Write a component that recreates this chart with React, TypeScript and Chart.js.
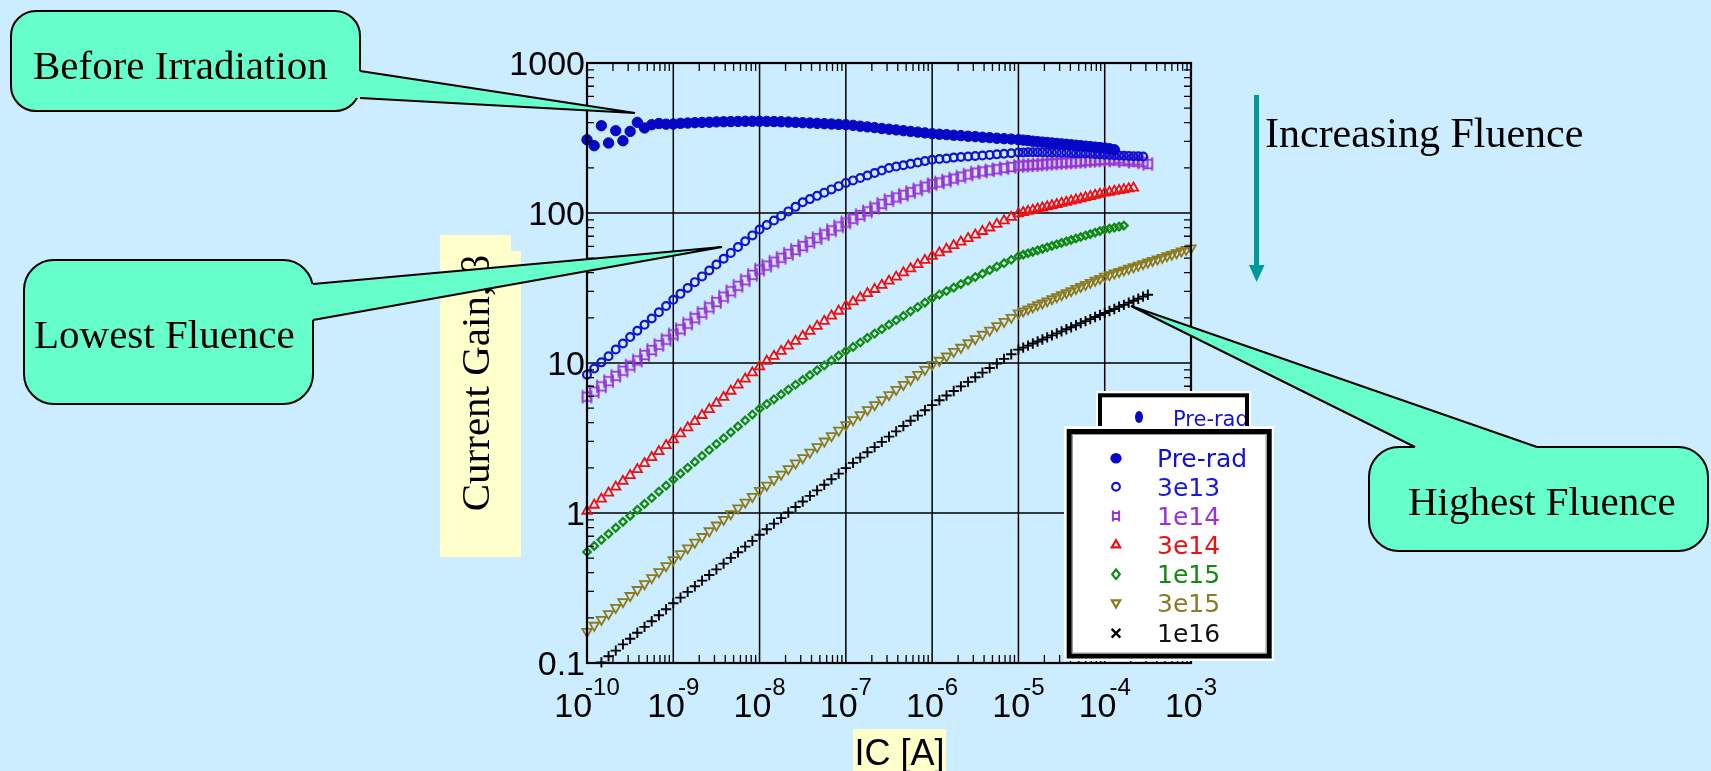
import React, { useEffect, useRef } from "react";
import { Chart, registerables } from "chart.js";

Chart.register(...registerables);

const W = 1711;
const H = 771;

// Collector current sweep (A): 12 points per decade up to 10 uA, 18 per decade above
const IC = [
  1e-10, 1.212e-10, 1.468e-10, 1.778e-10, 2.154e-10, 2.61e-10, 3.162e-10, 3.831e-10, 4.642e-10, 5.623e-10, 6.813e-10, 8.254e-10,
  1e-9, 1.212e-9, 1.468e-9, 1.778e-9, 2.154e-9, 2.61e-9, 3.162e-9, 3.831e-9, 4.642e-9, 5.623e-9, 6.813e-9, 8.254e-9,
  1e-8, 1.212e-8, 1.468e-8, 1.778e-8, 2.154e-8, 2.61e-8, 3.162e-8, 3.831e-8, 4.642e-8, 5.623e-8, 6.813e-8, 8.254e-8,
  1e-7, 1.212e-7, 1.468e-7, 1.778e-7, 2.154e-7, 2.61e-7, 3.162e-7, 3.831e-7, 4.642e-7, 5.623e-7, 6.813e-7, 8.254e-7,
  1e-6, 1.212e-6, 1.468e-6, 1.778e-6, 2.154e-6, 2.61e-6, 3.162e-6, 3.831e-6, 4.642e-6, 5.623e-6, 6.813e-6, 8.254e-6,
  1e-5, 1.136e-5, 1.292e-5, 1.468e-5, 1.668e-5, 1.896e-5, 2.154e-5, 2.448e-5, 2.783e-5, 3.162e-5, 3.594e-5, 4.084e-5,
  4.642e-5, 5.275e-5, 5.995e-5, 6.813e-5, 7.743e-5, 8.799e-5,
  1e-4, 1.136e-4, 1.292e-4, 1.468e-4, 1.668e-4, 1.896e-4, 2.154e-4, 2.448e-4, 2.783e-4, 3.162e-4, 3.594e-4, 4.084e-4,
  4.642e-4, 5.275e-4, 5.995e-4, 6.813e-4, 7.743e-4, 8.799e-4,
  1e-3,
];

// Current gain for each fluence, indexed along IC
const GAIN_PRE_RAD = [
  308, 281, 382, 293, 354, 303, 350, 402, 369, 388, 395, 391,
  392, 396, 398, 400, 402, 403, 405, 406, 407, 408, 409, 409,
  409, 408, 407, 406, 404, 402, 400, 398, 396, 394, 392, 390,
  388, 384, 379, 375, 371, 366, 362, 358, 354, 350, 346, 342,
  338, 335, 333, 330, 328, 325, 323, 320, 318, 315, 313, 311,
  308, 306, 304, 301, 299, 297, 295, 293, 291, 289, 287, 285, 283, 281, 279, 277, 275, 273,
  271, 268, 264,
];

const GAIN_3E13 = [
  8.36, 9.2, 10.1, 11.1, 12.3, 13.5, 14.9, 16.4, 18.0, 19.8, 21.8, 24.0,
  26.4, 28.9, 31.6, 34.6, 37.8, 41.4, 45.3, 49.5, 54.2, 59.3, 64.8, 70.9,
  77.6, 83.2, 89.2, 95.6, 102.5, 109.9, 117.8, 123.8, 130.1, 136.7, 143.7, 151.0,
  158.7, 164.9, 171.3, 178.0, 184.9, 192.1, 199.6, 203.9, 208.2, 212.6, 217.2, 221.8,
  226.5, 229, 231, 234, 236, 238, 240, 242, 244, 246, 248, 250,
  253, 253, 254, 254, 254, 254, 253, 253, 253, 252, 252, 251, 250, 250, 249, 248, 247, 246,
  245, 244, 243, 242, 241, 240, 239, 239, 238,
];

const GAIN_1E14 = [
  5.96, 6.45, 6.99, 7.57, 8.2, 8.88, 9.62, 10.4, 11.3, 12.2, 13.2, 14.3,
  15.5, 16.8, 18.3, 19.9, 21.6, 23.5, 25.5, 27.7, 30.1, 32.7, 35.6, 38.7,
  42.0, 44.6, 47.4, 50.3, 53.4, 56.7, 60.2, 64.0, 67.9, 72.1, 76.6, 81.4,
  86.4, 91.5, 96.9, 102.6, 108.7, 115.1, 121.9, 127.0, 132.3, 137.9, 143.7, 149.7,
  156.0, 159.6, 164.5, 169.6, 174.9, 180.3, 185.9, 189.1, 192.4, 195.8, 199.2, 202.7,
  206.2, 207, 208, 209, 210, 211, 213, 214, 215, 216, 217, 218, 219, 220, 222, 223, 224, 225,
  226, 228, 224, 230, 222, 226, 220, 224, 218, 212,
];

const GAIN_3E14 = [
  1.03, 1.13, 1.24, 1.36, 1.49, 1.63, 1.78, 1.95, 2.14, 2.35, 2.57, 2.82,
  3.08, 3.38, 3.71, 4.08, 4.48, 4.91, 5.39, 5.92, 6.5, 7.14, 7.84, 8.61,
  9.45, 10.3, 11.1, 12.0, 13.0, 14.0, 15.1, 16.3, 17.6, 19.0, 20.6, 22.2,
  24.0, 25.6, 27.3, 29.1, 31.0, 33.0, 35.2, 37.5, 40.0, 42.6, 45.4, 48.4,
  51.6, 54.4, 57.5, 60.7, 64.1, 67.7, 71.5, 75.5, 79.7, 84.2, 88.9, 93.9,
  99.1, 100.9, 102.7, 104.5, 106.4, 108.3, 110.2, 112.1, 114.1, 116.2, 118.2, 120.3, 122.5, 124.7, 126.9, 129.1, 131.4, 133.8,
  136.1, 137.9, 139.7, 141.5, 143.3, 145.2, 147,
];

const GAIN_1E15 = [
  0.55, 0.603, 0.662, 0.726, 0.796, 0.873, 0.958, 1.05, 1.15, 1.26, 1.39, 1.52,
  1.67, 1.83, 2.0, 2.19, 2.4, 2.63, 2.88, 3.15, 3.45, 3.78, 4.14, 4.53,
  4.96, 5.32, 5.73, 6.17, 6.65, 7.16, 7.71, 8.3, 8.94, 9.63, 10.4, 11.2,
  12.0, 12.8, 13.7, 14.7, 15.7, 16.8, 18.0, 19.3, 20.6, 22.1, 23.6, 25.3,
  27.1, 28.6, 30.2, 31.8, 33.6, 35.4, 37.4, 39.4, 41.6, 43.9, 46.3, 48.8,
  51.5, 52.7, 53.9, 55.1, 56.4, 57.7, 59.0, 60.4, 61.8, 63.2, 64.6, 66.1, 67.6, 69.2, 70.8, 72.4, 74.1, 75.8,
  77.5, 78.7, 79.9, 81.2, 82.4,
];

const GAIN_3E15 = [
  0.162, 0.178, 0.195, 0.213, 0.234, 0.256, 0.281, 0.308, 0.337, 0.37, 0.405, 0.444,
  0.487, 0.534, 0.583, 0.637, 0.695, 0.759, 0.829, 0.905, 0.988, 1.079, 1.179, 1.287,
  1.41, 1.53, 1.67, 1.81, 1.97, 2.15, 2.33, 2.54, 2.76, 3.01, 3.27, 3.56,
  3.87, 4.18, 4.51, 4.88, 5.27, 5.69, 6.14, 6.64, 7.17, 7.74, 8.36, 9.03,
  9.75, 10.4, 11.1, 11.9, 12.7, 13.6, 14.5, 15.5, 16.5, 17.7, 18.9, 20.1,
  21.5, 22.2, 22.9, 23.6, 24.4, 25.1, 25.9, 26.8, 27.6, 28.5, 29.4, 30.3, 31.3, 32.3, 33.3, 34.4, 35.5, 36.6,
  37.8, 38.7, 39.7, 40.6, 41.6, 42.7, 43.7, 44.8, 45.9, 47.0, 48.2, 49.3, 50.5, 51.8, 53.0, 54.3, 55.7, 57.0,
  58.4,
];

const GAIN_1E16 = [
  null, null, 0.101, 0.111, 0.121, 0.133, 0.145, 0.159, 0.174, 0.19, 0.208, 0.228,
  0.25, 0.273, 0.298, 0.325, 0.354, 0.386, 0.421, 0.46, 0.502, 0.547, 0.597, 0.652,
  0.716, 0.78, 0.849, 0.925, 1.007, 1.097, 1.194, 1.301, 1.416, 1.542, 1.68, 1.829,
  1.992, 2.16, 2.34, 2.54, 2.75, 2.98, 3.23, 3.5, 3.8, 4.12, 4.46, 4.84,
  5.24, 5.65, 6.07, 6.51, 6.98, 7.49, 8.04, 8.63, 9.26, 9.93, 10.66, 11.44,
  12.27, 12.66, 13.06, 13.48, 13.91, 14.35, 14.81, 15.28, 15.76, 16.26, 16.78, 17.31, 17.86, 18.43, 19.02, 19.62, 20.25, 20.89,
  21.55, 22.2, 22.9, 23.7, 24.4, 25.2, 26.0, 26.8, 27.7, 28.5,
];

const SERIES_LABELS = ["Pre-rad", "3e13", "1e14", "3e14", "1e15", "3e15", "1e16"];
const SERIES_VALUES = [GAIN_PRE_RAD, GAIN_3E13, GAIN_1E14, GAIN_3E14, GAIN_1E15, GAIN_3E15, GAIN_1E16];

const X_DECADES = [1e-10, 1e-9, 1e-8, 1e-7, 1e-6, 1e-5, 1e-4, 1e-3];
const X_EXPONENTS = ["-10", "-9", "-8", "-7", "-6", "-5", "-4", "-3"];
const Y_DECADES = [0.1, 1, 10, 100, 1000];
const Y_LABELS = ["0.1", "1", "10", "100", "1000"];

const BG = "#CCECFF";
const CALLOUT = "#66FFCC";
const NOTE_YELLOW = "#FFFFCC";
const TEAL = "#009999";

type Kind = "dot" | "ring" | "barSquare" | "tri" | "diamond" | "triDown" | "cross";
const SERIES_STYLE: { color: string; text: string; kind: Kind }[] = [
  { color: "#0606C6", text: "#1010D8", kind: "dot" },
  { color: "#1212D0", text: "#1a1ad8", kind: "ring" },
  { color: "#9A32D2", text: "#9B30D9", kind: "barSquare" },
  { color: "#EE1010", text: "#EE1010", kind: "tri" },
  { color: "#128A12", text: "#128A12", kind: "diamond" },
  { color: "#8C7A1C", text: "#8C7A2A", kind: "triDown" },
  { color: "#000000", text: "#111111", kind: "cross" },
];

function makeBarSquare(color: string, side: number, ext: number, lw: number) {
  const pad = 2;
  const c = document.createElement("canvas");
  c.width = Math.ceil(side + 2 * pad);
  c.height = Math.ceil(side + 2 * ext + 2 * pad);
  const g = c.getContext("2d")!;
  const cx = c.width / 2;
  const cy = c.height / 2;
  g.strokeStyle = color;
  g.lineWidth = lw;
  g.strokeRect(cx - side / 2, cy - side / 2, side, side);
  g.beginPath();
  g.moveTo(cx - side / 2, cy - side / 2 - ext);
  g.lineTo(cx - side / 2, cy + side / 2 + ext);
  g.moveTo(cx + side / 2, cy - side / 2 - ext);
  g.lineTo(cx + side / 2, cy + side / 2 + ext);
  g.stroke();
  return c;
}

function drawMarker(ctx: CanvasRenderingContext2D, kind: Kind, x: number, y: number, r: number, color: string) {
  ctx.save();
  ctx.strokeStyle = color;
  ctx.fillStyle = color;
  ctx.lineWidth = 2.2;
  ctx.beginPath();
  if (kind === "dot") {
    ctx.ellipse(x, y, r, r * 0.95, 0, 0, Math.PI * 2);
    ctx.fill();
  } else if (kind === "ring") {
    ctx.arc(x, y, r * 0.8, 0, Math.PI * 2);
    ctx.stroke();
  } else if (kind === "barSquare") {
    const s = r * 1.3;
    ctx.lineWidth = 2;
    ctx.rect(x - s / 2, y - s / 2, s, s);
    ctx.moveTo(x - s / 2, y - s / 2 - 2.5);
    ctx.lineTo(x - s / 2, y + s / 2 + 2.5);
    ctx.moveTo(x + s / 2, y - s / 2 - 2.5);
    ctx.lineTo(x + s / 2, y + s / 2 + 2.5);
    ctx.stroke();
  } else if (kind === "tri" || kind === "triDown") {
    const d = kind === "tri" ? 1 : -1;
    ctx.moveTo(x, y - d * r);
    ctx.lineTo(x + r * 0.87, y + d * r * 0.5);
    ctx.lineTo(x - r * 0.87, y + d * r * 0.5);
    ctx.closePath();
    ctx.stroke();
  } else if (kind === "diamond") {
    ctx.moveTo(x, y - r);
    ctx.lineTo(x + r * 0.8, y);
    ctx.lineTo(x, y + r);
    ctx.lineTo(x - r * 0.8, y);
    ctx.closePath();
    ctx.stroke();
  } else if (kind === "cross") {
    const a = r * 0.75;
    ctx.lineWidth = 2.4;
    ctx.moveTo(x - a, y - a);
    ctx.lineTo(x + a, y + a);
    ctx.moveTo(x + a, y - a);
    ctx.lineTo(x - a, y + a);
    ctx.stroke();
  }
  ctx.restore();
}

type Box = { x: number; y: number; w: number; h: number; r: number };

function drawCallout(
  ctx: CanvasRenderingContext2D,
  box: Box,
  base: [number, number][],
  tip: [number, number],
  inward: [number, number],
  text: string,
  tx: number,
  ty: number
) {
  ctx.save();
  ctx.beginPath();
  ctx.roundRect(box.x, box.y, box.w, box.h, box.r);
  ctx.fillStyle = CALLOUT;
  ctx.fill();
  ctx.lineWidth = 2;
  ctx.strokeStyle = "#000";
  ctx.stroke();

  const [b1, b2] = base;
  ctx.beginPath();
  ctx.moveTo(b1[0], b1[1]);
  ctx.lineTo(tip[0], tip[1]);
  ctx.lineTo(b2[0], b2[1]);
  ctx.lineTo(b2[0] + inward[0] * 4, b2[1] + inward[1] * 4);
  ctx.lineTo(b1[0] + inward[0] * 4, b1[1] + inward[1] * 4);
  ctx.closePath();
  ctx.fill();
  ctx.beginPath();
  ctx.moveTo(b1[0], b1[1]);
  ctx.lineTo(tip[0], tip[1]);
  ctx.lineTo(b2[0], b2[1]);
  ctx.lineJoin = "miter";
  ctx.stroke();

  ctx.fillStyle = "#000";
  ctx.font = "41px 'Liberation Serif', 'Times New Roman', serif";
  ctx.textAlign = "left";
  ctx.textBaseline = "alphabetic";
  ctx.fillText(text, tx, ty);
  ctx.restore();
}

const decorations = {
  id: "gainDecorations",
  beforeDraw(chart: any) {
    const { ctx } = chart;
    ctx.save();
    ctx.fillStyle = BG;
    ctx.fillRect(0, 0, chart.width, chart.height);
    ctx.restore();
  },
  beforeDatasetsDraw(chart: any) {
    const { ctx, chartArea: a } = chart;
    const xs = chart.scales.x;
    const ys = chart.scales.y;
    ctx.save();
    ctx.strokeStyle = "#000";
    ctx.lineWidth = 1.5;
    ctx.beginPath();
    X_DECADES.forEach((v) => {
      const px = xs.getPixelForValue(v);
      ctx.moveTo(px, a.top);
      ctx.lineTo(px, a.bottom);
    });
    Y_DECADES.forEach((v) => {
      const py = ys.getPixelForValue(v);
      ctx.moveTo(a.left, py);
      ctx.lineTo(a.right, py);
    });
    ctx.stroke();
    ctx.restore();
  },
  afterDatasetsDraw(chart: any) {
    const { ctx, chartArea: a } = chart;
    const xs = chart.scales.x;
    const ys = chart.scales.y;
    ctx.save();
    ctx.strokeStyle = "#000";
    ctx.lineWidth = 1.3;
    ctx.beginPath();
    for (let i = 0; i < X_DECADES.length - 1; i++) {
      for (let m = 2; m <= 9; m++) {
        const px = xs.getPixelForValue(m * X_DECADES[i]);
        ctx.moveTo(px, a.bottom);
        ctx.lineTo(px, a.bottom - 8);
        ctx.moveTo(px, a.top);
        ctx.lineTo(px, a.top + 8);
      }
    }
    for (let i = 0; i < Y_DECADES.length - 1; i++) {
      for (let m = 2; m <= 9; m++) {
        const py = ys.getPixelForValue(m * Y_DECADES[i]);
        ctx.moveTo(a.left, py);
        ctx.lineTo(a.left + 7, py);
        ctx.moveTo(a.right, py);
        ctx.lineTo(a.right - 7, py);
      }
    }
    ctx.stroke();
    ctx.lineWidth = 2.2;
    ctx.strokeRect(a.left, a.top, a.right - a.left, a.bottom - a.top);

    // y tick labels
    ctx.fillStyle = "#000";
    ctx.font = "34px 'Liberation Sans', Arial, sans-serif";
    ctx.textAlign = "right";
    ctx.textBaseline = "alphabetic";
    Y_DECADES.forEach((v, i) => {
      const py = ys.getPixelForValue(v);
      ctx.fillText(Y_LABELS[i], a.left - 2, py + 12);
    });

    // x tick labels: 10 with a superscript exponent
    ctx.textAlign = "left";
    X_DECADES.forEach((v, i) => {
      const px = xs.getPixelForValue(v);
      ctx.font = "34px 'Liberation Sans', Arial, sans-serif";
      const wBase = ctx.measureText("10").width;
      ctx.font = "24px 'Liberation Sans', Arial, sans-serif";
      const wExp = ctx.measureText(X_EXPONENTS[i]).width;
      const overlap = 7;
      const total = wBase - overlap + wExp;
      const x0 = px - total / 2;
      ctx.font = "34px 'Liberation Sans', Arial, sans-serif";
      ctx.fillText("10", x0, 717);
      ctx.font = "24px 'Liberation Sans', Arial, sans-serif";
      ctx.fillText(X_EXPONENTS[i], x0 + wBase - overlap, 695);
    });
    ctx.restore();
  },
  afterDraw(chart: any) {
    const { ctx } = chart;
    ctx.save();

    // axis titles on yellow notes
    ctx.fillStyle = NOTE_YELLOW;
    ctx.beginPath();
    ctx.moveTo(440, 235);
    ctx.lineTo(511, 235);
    ctx.lineTo(511, 251);
    ctx.lineTo(521, 251);
    ctx.lineTo(521, 557);
    ctx.lineTo(440, 557);
    ctx.closePath();
    ctx.fill();
    ctx.fillRect(853, 729, 93, 42);

    ctx.fillStyle = "#000";
    ctx.font = "36px 'Liberation Sans', Arial, sans-serif";
    ctx.textAlign = "center";
    ctx.fillText("IC [A]", 899.5, 765);

    ctx.save();
    ctx.translate(489, 383);
    ctx.rotate(-Math.PI / 2);
    ctx.font = "41px 'Liberation Serif', 'Times New Roman', serif";
    ctx.textAlign = "center";
    ctx.fillText("Current Gain, \u03B2", 0, 0);
    ctx.restore();

    // legend: partially hidden copy behind the main box
    ctx.fillStyle = "#fff";
    ctx.fillRect(1096, 391, 155, 50);
    ctx.strokeStyle = "#000";
    ctx.lineWidth = 4;
    ctx.strokeRect(1100, 395.3, 147, 60);
    ctx.save();
    ctx.beginPath();
    ctx.rect(1102, 397, 143, 40);
    ctx.clip();
    ctx.fillStyle = SERIES_STYLE[0].color;
    ctx.beginPath();
    ctx.ellipse(1139, 417, 4, 6, 0, 0, Math.PI * 2);
    ctx.fill();
    ctx.fillStyle = SERIES_STYLE[0].text;
    ctx.font = "21px 'DejaVu Sans', sans-serif";
    ctx.textAlign = "left";
    ctx.fillText(SERIES_LABELS[0], 1173, 426);
    ctx.restore();

    // main legend box
    ctx.fillStyle = "#fff";
    ctx.fillRect(1064, 426, 210, 235);
    ctx.strokeStyle = "#000";
    ctx.lineWidth = 5;
    ctx.strokeRect(1069.2, 431.5, 200, 224.5);
    ctx.strokeStyle = "#9a9a9a";
    ctx.lineWidth = 1;
    ctx.strokeRect(1072.5, 434.5, 193.5, 218.5);
    const rows = [458.3, 486.7, 516, 545, 574.3, 602.7, 633.3];
    const markerR = [5.6, 4.8, 4.8, 4.8, 4.8, 4.8, 5.8];
    ctx.font = "25px 'DejaVu Sans', sans-serif";
    ctx.textAlign = "left";
    SERIES_LABELS.forEach((label, i) => {
      const st = SERIES_STYLE[i];
      drawMarker(ctx, st.kind, 1116, rows[i], markerR[i], st.color);
      ctx.fillStyle = st.text;
      ctx.fillText(label, 1157, rows[i] + 9);
    });

    // fluence arrow
    ctx.fillStyle = TEAL;
    ctx.fillRect(1254, 95, 5, 171);
    ctx.beginPath();
    ctx.moveTo(1249, 265);
    ctx.lineTo(1264.5, 265);
    ctx.lineTo(1256.6, 282);
    ctx.closePath();
    ctx.fill();
    ctx.fillStyle = "#000";
    ctx.font = "42px 'Liberation Serif', 'Times New Roman', serif";
    ctx.textAlign = "left";
    ctx.fillText("Increasing Fluence", 1265, 147);

    // callouts
    drawCallout(ctx, { x: 11, y: 11, w: 349, h: 100, r: 25 }, [[360, 71], [360, 98]], [635, 113], [-1, 0], "Before Irradiation", 33, 79);
    drawCallout(ctx, { x: 24, y: 260, w: 289, h: 144, r: 30 }, [[313, 284], [313, 320]], [722, 247], [-1, 0], "Lowest Fluence", 34, 348);
    drawCallout(ctx, { x: 1369, y: 447, w: 339, h: 104, r: 30 }, [[1415, 447], [1537, 447]], [1131, 306], [0, 1], "Highest Fluence", 1408, 515);

    ctx.restore();
  },
};

export default function App() {
  const canvasRef = useRef<HTMLCanvasElement | null>(null);

  useEffect(() => {
    const canvas = canvasRef.current;
    if (!canvas) return;

    const barSquare = makeBarSquare(SERIES_STYLE[2].color, 8.5, 2.5, 1.7);

    const datasets = SERIES_VALUES.map((values, s) => {
      const st = SERIES_STYLE[s];
      const points = values
        .map((y, i) => (y == null ? null : { x: IC[i], y }))
        .filter((p) => p !== null) as { x: number; y: number }[];
      const base: any = {
        label: SERIES_LABELS[s],
        data: points,
        showLine: false,
        clip: false,
        pointBorderColor: st.color,
        pointBackgroundColor: "transparent",
        pointBorderWidth: 1.8,
        pointHoverRadius: 0,
      };
      switch (st.kind) {
        case "dot":
          return { ...base, pointStyle: "circle", pointRadius: 5.2, pointBackgroundColor: st.color, pointBorderWidth: 1 };
        case "ring":
          return { ...base, pointStyle: "circle", pointRadius: 3.9, pointBorderWidth: 2.2 };
        case "barSquare":
          return { ...base, pointStyle: barSquare, pointRadius: 4.5 };
        case "tri":
          return { ...base, pointStyle: "triangle", pointRadius: 5.4, pointBorderWidth: 1.8 };
        case "diamond":
          return { ...base, pointStyle: "rectRot", pointRadius: 3.8, pointBorderWidth: 2.2 };
        case "triDown":
          return { ...base, pointStyle: "triangle", pointRotation: 180, pointRadius: 5.4, pointBorderWidth: 1.8 };
        default:
          return { ...base, pointStyle: "cross", pointRadius: 5.2, pointBorderWidth: 1.9 };
      }
    });

    const chart = new Chart(canvas, {
      type: "scatter",
      data: { datasets },
      options: {
        responsive: false,
        animation: false,
        devicePixelRatio: 1,
        events: [],
        layout: { padding: { left: 587, right: W - 1191, top: 63, bottom: H - 663 } },
        plugins: {
          legend: { display: false },
          tooltip: { enabled: false },
          title: { display: false },
        },
        scales: {
          x: {
            type: "logarithmic",
            min: 1e-10,
            max: 1e-3,
            ticks: { display: false },
            grid: { display: false },
            border: { display: false },
            afterFit: (s: any) => {
              s.height = 0;
            },
          },
          y: {
            type: "logarithmic",
            min: 0.1,
            max: 1000,
            ticks: { display: false },
            grid: { display: false },
            border: { display: false },
            afterFit: (s: any) => {
              s.width = 0;
            },
          },
        },
      } as any,
      plugins: [decorations],
    });

    return () => chart.destroy();
  }, []);

  return (
    <div style={{ position: "fixed", left: 0, top: 0, width: W, height: H, background: BG }}>
      <canvas ref={canvasRef} width={W} height={H} style={{ display: "block", width: W, height: H }} />
    </div>
  );
}
